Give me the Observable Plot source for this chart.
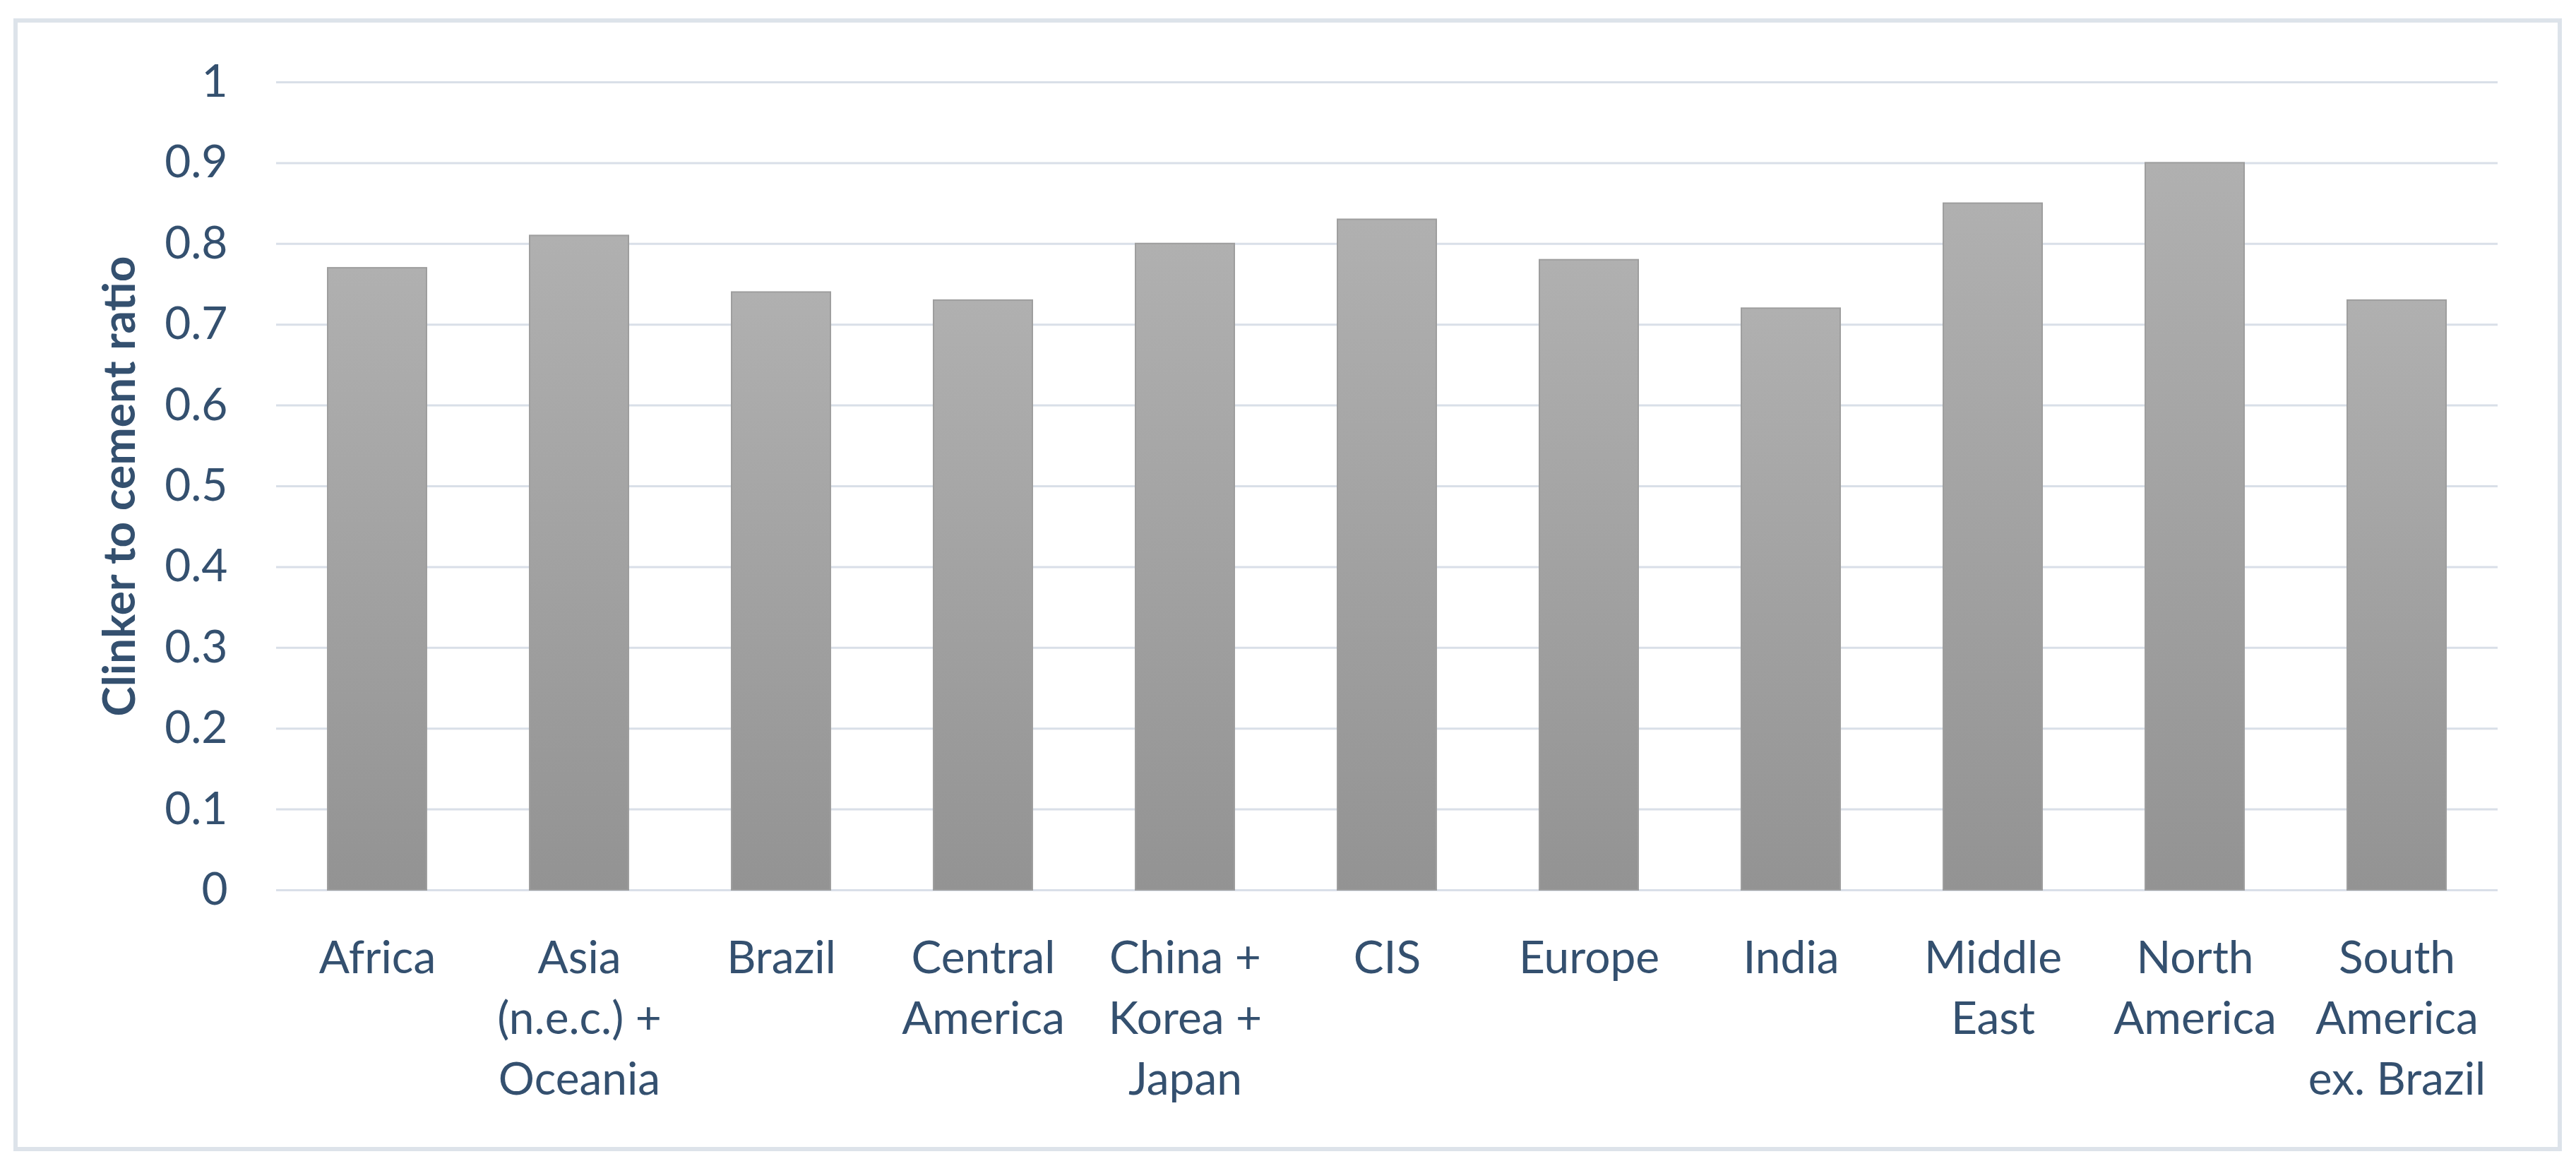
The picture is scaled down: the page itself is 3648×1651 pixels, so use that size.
<!DOCTYPE html>
<html><head><meta charset="utf-8">
<script src="https://cdn.jsdelivr.net/npm/d3@7"></script>
<script src="https://cdn.jsdelivr.net/npm/@observablehq/plot@0.6"></script>
<style>
html,body{margin:0;padding:0;background:#fff;}
#wrap{position:relative;width:3648px;height:1651px;overflow:hidden;}
#frame{position:absolute;left:19px;top:26px;width:3609px;height:1604px;border:6px solid #DDE3EA;box-sizing:border-box;}
#chart{position:absolute;left:0;top:0;}
</style></head><body>
<div id="wrap"><div id="frame"></div><div id="chart"></div></div>
<script>
const categories = ["Africa", "Asia (n.e.c.) + Oceania", "Brazil", "Central America", "China + Korea + Japan", "CIS", "Europe", "India", "Middle East", "North America", "South America ex. Brazil"];
const categoryLabels = ["Africa", "Asia\n(n.e.c.) +\nOceania", "Brazil", "Central\nAmerica", "China +\nKorea +\nJapan", "CIS", "Europe", "India", "Middle\nEast", "North\nAmerica", "South\nAmerica\nex. Brazil"];
const values = [0.77, 0.81, 0.74, 0.73, 0.80, 0.83, 0.78, 0.72, 0.85, 0.90, 0.73];
const yTicks = [0, 0.1, 0.2, 0.3, 0.4, 0.5, 0.6, 0.7, 0.8, 0.9, 1];
const yTickLabels = ["0", "0.1", "0.2", "0.3", "0.4", "0.5", "0.6", "0.7", "0.8", "0.9", "1"];
const yTitle = "Clinker to cement ratio";

const data = categories.map((c, i) => ({category: c, value: values[i]}));
const font = "Lato, 'Open Sans', sans-serif";
const textColor = "#34506F";

const chart = Plot.plot({
  width: 3648, height: 1651,
  marginLeft: 391, marginRight: 111, marginTop: 116, marginBottom: 391,
  style: {fontFamily: font, fontSize: "64px", color: textColor, background: "transparent", overflow: "visible"},
  x: {domain: categories, paddingInner: 0.51, paddingOuter: 0.245, axis: null},
  y: {domain: [0, 1], axis: null},
  marks: [
    Plot.ruleY(yTicks, {stroke: "#D9DFE8", strokeWidth: 3}),
    Plot.barY(data, {x: "category", y: "value", fill: "url(#barGrad)", stroke: "#9E9E9E", strokeWidth: 2}),
    Plot.axisY({ticks: yTicks, tickSize: 0, tickPadding: 69, tickFormat: d => yTickLabels[yTicks.indexOf(d)], fill: textColor, fontSize: 64, label: null}),
    Plot.axisX({tickSize: 0, tickPadding: 57, tickFormat: d => categoryLabels[categories.indexOf(d)], lineHeight: 1.34, fill: textColor, fontSize: 64, label: null}),
    Plot.text([yTitle], {frameAnchor: "left", text: d => d, rotate: -90, dx: -221, textAnchor: "middle", fontWeight: "bold", fill: textColor, fontSize: 64})
  ]
});

const ns = "http://www.w3.org/2000/svg";
const defs = document.createElementNS(ns, "defs");
defs.innerHTML = '<linearGradient id="barGrad" x1="0" y1="0" x2="0" y2="1"><stop offset="0" stop-color="#B0B0B0"/><stop offset="1" stop-color="#939393"/></linearGradient>';
chart.insertBefore(defs, chart.firstChild);
document.getElementById("chart").appendChild(chart);
</script>
</body></html>
